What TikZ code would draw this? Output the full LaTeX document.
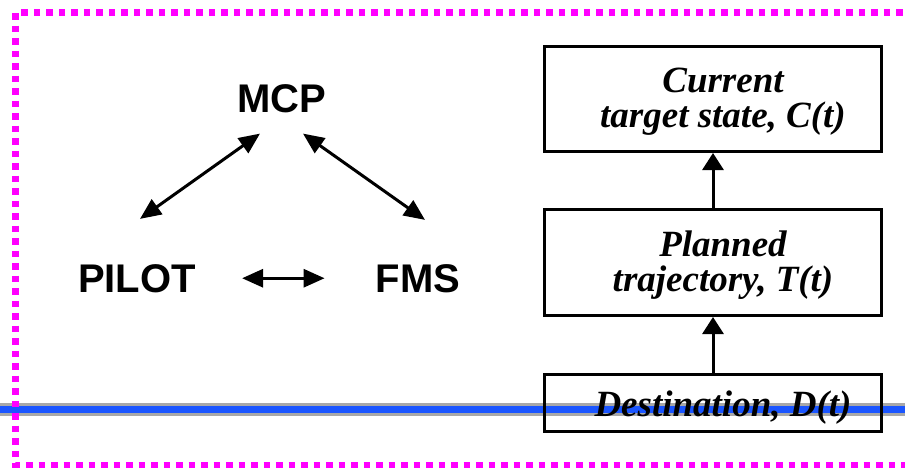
\documentclass[tikz,border=0pt]{standalone}
\usepackage{fontspec}
\setmainfont{Liberation Serif}
\newfontfamily\headfont{Liberation Sans}
\usetikzlibrary{arrows.meta,positioning,calc}
\definecolor{stripblue}{HTML}{1A55FF}
\definecolor{stripgray}{HTML}{A8A8A8}
\definecolor{dotpink}{HTML}{FF00FF}
\tikzset{
  actor/.style={font=\headfont\bfseries\fontsize{40}{40}\selectfont,inner sep=0pt,anchor=base},
  link/.style={line width=3pt,{Triangle[length=21pt,width=18pt]}-{Triangle[length=21pt,width=18pt]}},
  feed/.style={line width=3pt,-{Triangle[length=17pt,width=21pt]}},
  statebox/.style args={#1,#2}{
  draw=black,
  line width=3pt,
  minimum width=#1pt,
  minimum height=#2pt,
  inner sep=0pt
  },
  boxtext/.style={font=\bfseries\itshape\fontsize{37}{35}\selectfont,align=center,inner sep=0pt,xshift=10pt},
  dotborder/.style={draw=dotpink,line width=6.5pt,dash pattern=on 6.5pt off 6pt}
}
\begin{document}
\begin{tikzpicture}[x=1pt,y=-1pt]
  \useasboundingbox (0,0) rectangle (905,467);
  \clip (0,0) rectangle (905,467);
  \draw[stripgray,line width=13pt] (0,409.5) -- (905,409.5);
  \draw[stripblue,line width=7pt] (0,409.5) -- (905,409.5);

  \node[actor] (mcp) at (282,112) {MCP};
  \node[actor] (pilot) at (137,292) {PILOT};
  \node[actor] (fms) at (418,292) {FMS};

  \draw[link] ([shift={(3,-45)}]pilot.north) -- ([shift={(-22,21)}]mcp.south);
  \draw[link] ([shift={(21,21)}]mcp.south) -- ([shift={(7,-44)}]fms.north);
  \draw[link,shorten <=46pt,shorten >=51pt] (pilot.east) -- (fms.west);

  \node[statebox={337,105},label={[boxtext,yshift=-3pt]center:{Current\\target state, C(t)}}] (cur) at (713,99) {};
  \node[statebox={337,106},label={[boxtext,yshift=-3pt]center:{Planned\\trajectory, T(t)}}] (plan) at (713,262.5) {};
  \node[statebox={337,57},label={[boxtext,yshift=-5pt]center:{Destination, D(t)}}] (dest) at (713,403) {};
  \draw[feed] (plan) -- (cur);
  \draw[feed] (dest) -- (plan);

  \draw[dotborder] (915,12.5) -| (15.5,465) -- (915,465);
\end{tikzpicture}
\end{document}
